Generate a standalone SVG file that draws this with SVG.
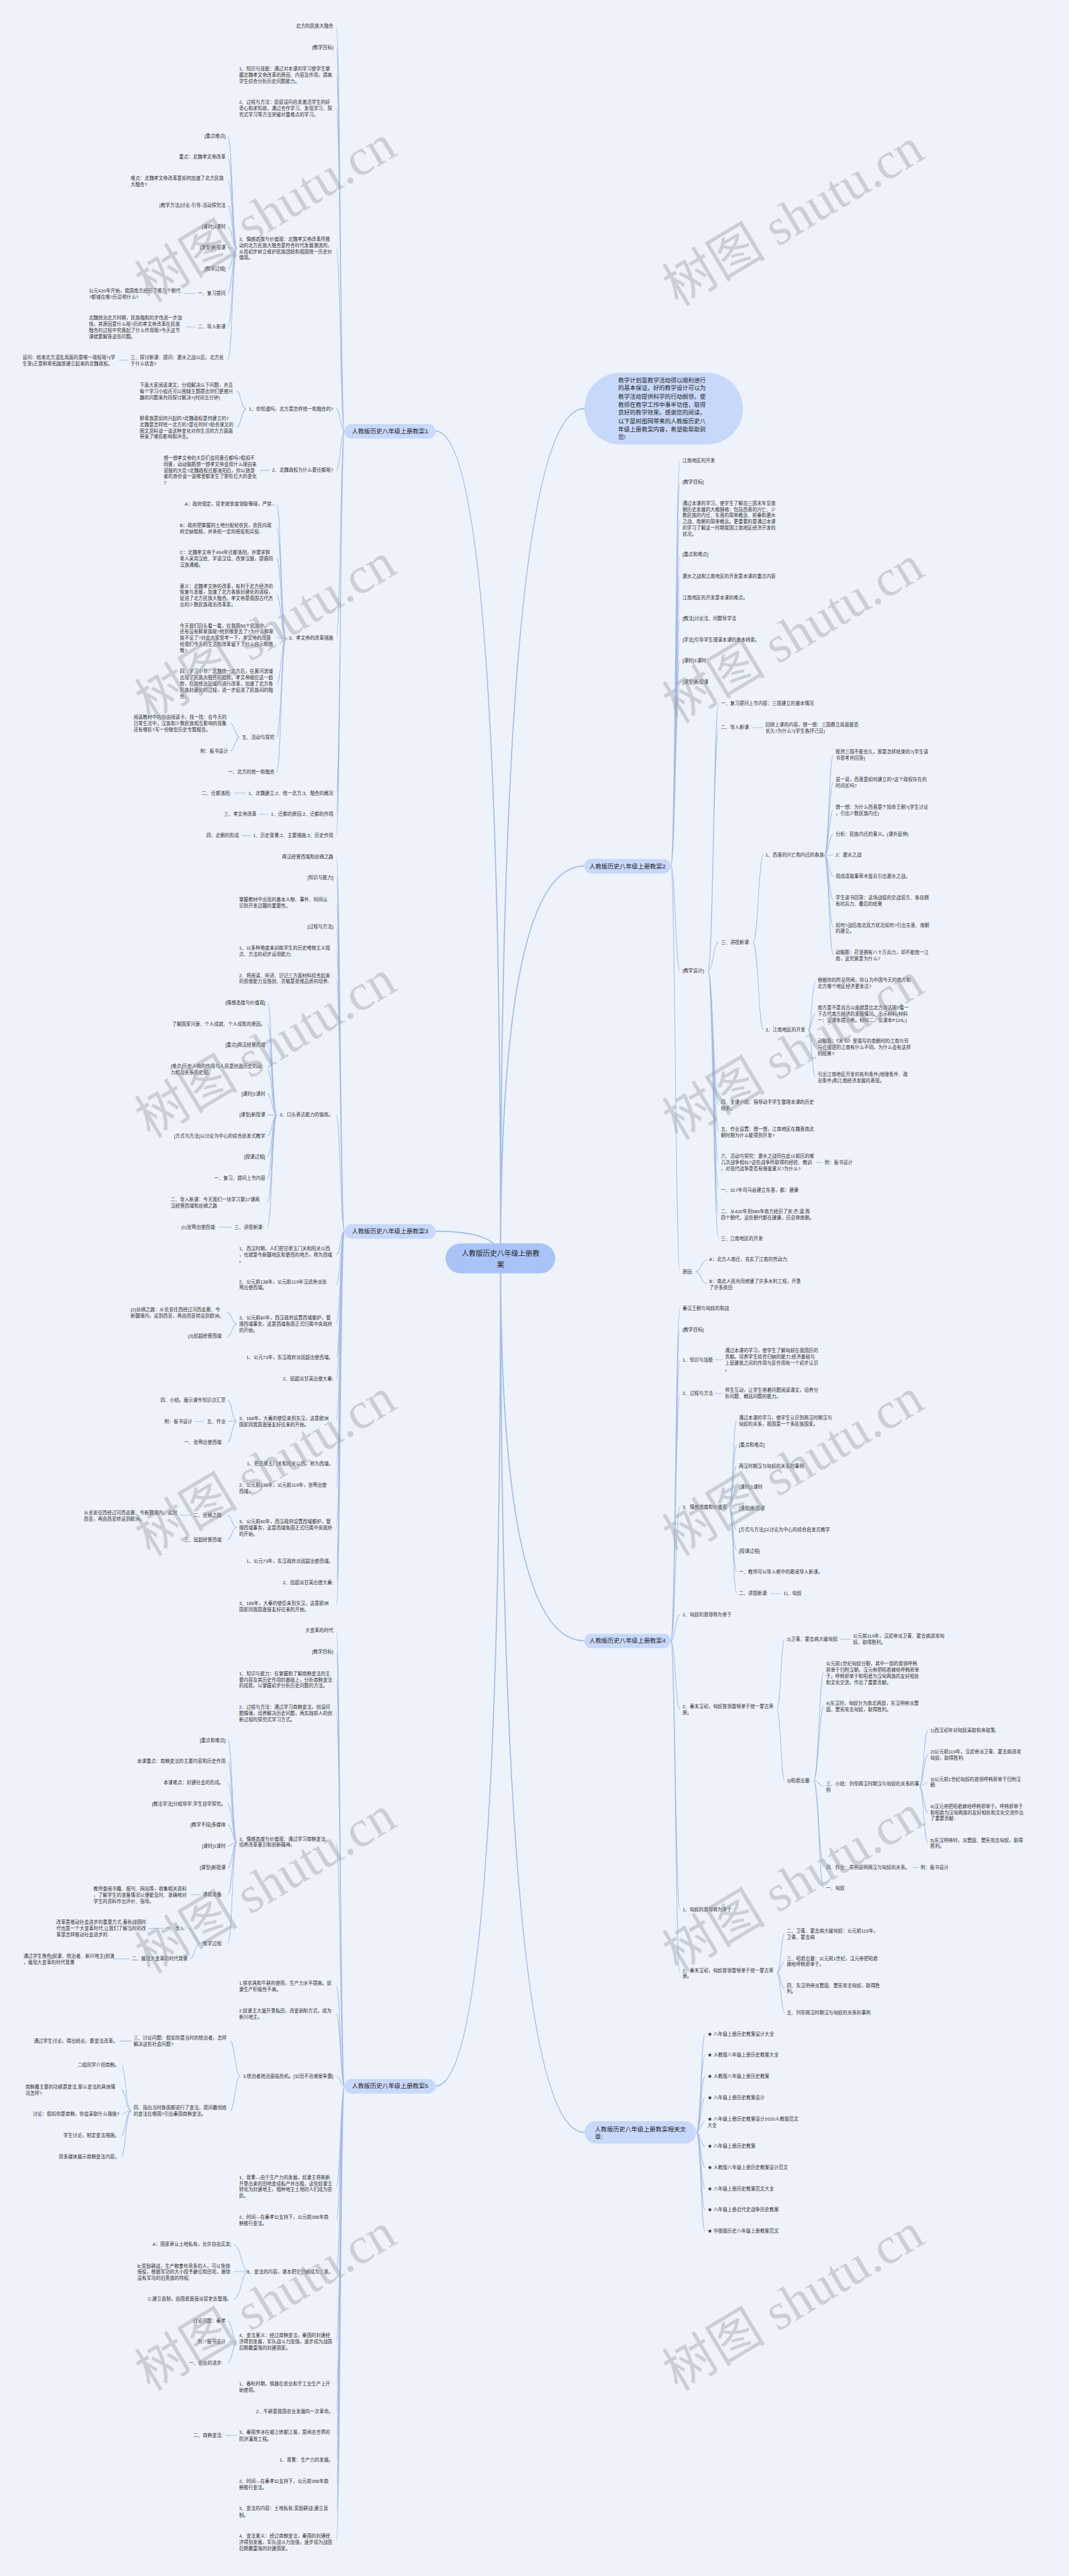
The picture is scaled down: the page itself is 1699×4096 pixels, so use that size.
<svg xmlns="http://www.w3.org/2000/svg" width="1699" height="4096" viewBox="0 0 1699 4096">
<style>
.t{font-family:"Liberation Sans","Noto Sans CJK SC",sans-serif;font-size:11.2px;fill:#2d2d2d;dominant-baseline:central}
.e{text-anchor:end}
.bn{fill:#c8d8fa}
.bt{font-family:"Liberation Sans","Noto Sans CJK SC",sans-serif;font-size:14.6px;fill:#1f1f1f;dominant-baseline:central}
.m{text-anchor:middle}
.c1{fill:none;stroke:#a6bde8;stroke-width:3}
.c2{fill:none;stroke:#a6bde8;stroke-width:1.6}
.wm{font-family:"Liberation Serif","Noto Sans CJK SC",serif;font-size:124px;fill:#9ea3ab;fill-opacity:.45;text-anchor:middle}
</style>
<rect x="0" y="0" width="1699" height="4096" fill="#eef3fb"/>
<g transform="scale(0.663)">
<g id="connectors">
<path class="c1" d="M1200,3018Q1200,1034 1044,1034M1200,3018Q1200,2953 1044,2953M1200,3018Q1200,5003 1044,5003M1200,3018Q1200,980 1401,980M1200,3018Q1200,2077 1401,2077M1200,3018Q1200,3935 1401,3935M1200,3018Q1200,5114 1401,5114"/>
<path class="c2" d="M826,1034C816,1034 816,63 806,63M826,1034C816,1034 816,114 806,114M826,1034C816,1034 816,179 806,179M826,1034C816,1034 816,260 806,260M826,1034C816,1034 816,595 806,595M826,1034C816,1034 816,981 806,981M826,1034C816,1034 816,1128 806,1128M826,1034C816,1034 816,1530 806,1530M826,1034C816,1034 816,1902 806,1902M826,1034C816,1034 816,1953 806,1953M826,1034C816,1034 816,2004 806,2004"/>
<path class="c2" d="M568,595C557,595 557,326 546,326M568,595C557,595 557,377 546,377M568,595C557,595 557,434 546,434M568,595C557,595 557,493 546,493M568,595C557,595 557,544 546,544M568,595C557,595 557,594 546,594M568,595C557,595 557,645 546,645M568,595C557,595 557,704 546,704M568,595C557,595 557,784 546,784M568,595C557,595 557,864 546,864M443,704L469,704M446,784L469,784M285,864L308,864"/>
<path class="c2" d="M590,981C578,981 578,938 567,938M590,981C578,981 578,1025 567,1025M624,1128L646,1128"/>
<path class="c2" d="M686,1530C674,1530 674,1209 663,1209M686,1530C674,1530 674,1266 663,1266M686,1530C674,1530 674,1339 663,1339M686,1530C674,1530 674,1427 663,1427M686,1530C674,1530 674,1530 663,1530M686,1530C674,1530 674,1640 663,1640M686,1530C674,1530 674,1768 663,1768M686,1530C674,1530 674,1852 663,1852M575,1768C563,1768 563,1735 552,1735M575,1768C563,1768 563,1801 552,1801M560,1902L589,1902M621,1953L643,1953M579,2004L600,2004"/>
<path class="c2" d="M826,2953C816,2953 816,2055 806,2055M826,2953C816,2953 816,2105 806,2105M826,2953C816,2953 816,2164 806,2164M826,2953C816,2953 816,2223 806,2223M826,2953C816,2953 816,2280 806,2280M826,2953C816,2953 816,2346 806,2346M826,2953C816,2953 816,2674 806,2674M826,2953C816,2953 816,3009 806,3009M826,2953C816,2953 816,3081 806,3081M826,2953C816,2953 816,3175 806,3175M826,2953C816,2953 816,3256 806,3256M826,2953C816,2953 816,3307 806,3307M826,2953C816,2953 816,3408 806,3408M826,2953C816,2953 816,3510 806,3510M826,2953C816,2953 816,3568 806,3568M826,2953C816,2953 816,3663 806,3663M826,2953C816,2953 816,3744 806,3744M826,2953C816,2953 816,3795 806,3795M826,2953C816,2953 816,3852 806,3852"/>
<path class="c2" d="M664,2674C652,2674 652,2405 641,2405M664,2674C652,2674 652,2456 641,2456M664,2674C652,2674 652,2506 641,2506M664,2674C652,2674 652,2564 641,2564M664,2674C652,2674 652,2623 641,2623M664,2674C652,2674 652,2674 641,2674M664,2674C652,2674 652,2724 641,2724M664,2674C652,2674 652,2775 641,2775M664,2674C652,2674 652,2826 641,2826M664,2674C652,2674 652,2884 641,2884M664,2674C652,2674 652,2943 641,2943M524,2943L556,2943"/>
<path class="c2" d="M568,3175C556,3175 556,3147 544,3147M568,3175C556,3175 556,3205 544,3205M568,3408C556,3408 556,3358 546,3358M568,3408C556,3408 556,3409 546,3409M568,3408C556,3408 556,3460 544,3460M467,3409L490,3409M568,3663C556,3663 556,3634 544,3634M568,3663C556,3663 556,3693 544,3693M431,3634L459,3634"/>
<path class="c2" d="M826,5003C816,5003 816,3911 806,3911M826,5003C816,5003 816,3962 806,3962M826,5003C816,5003 816,4028 806,4028M826,5003C816,5003 816,4108 806,4108M826,5003C816,5003 816,4417 806,4417M826,5003C816,5003 816,4763 806,4763M826,5003C816,5003 816,4829 806,4829M826,5003C816,5003 816,4979 806,4979M826,5003C816,5003 816,5244 806,5244M826,5003C816,5003 816,5324 806,5324M826,5003C816,5003 816,5448 806,5448M826,5003C816,5003 816,5616 806,5616M826,5003C816,5003 816,5724 806,5724M826,5003C816,5003 816,5783 806,5783M826,5003C816,5003 816,5841 806,5841M826,5003C816,5003 816,5899 806,5899M826,5003C816,5003 816,5957 806,5957M826,5003C816,5003 816,6023 806,6023M826,5003C816,5003 816,6097 806,6097"/>
<path class="c2" d="M568,4417C557,4417 557,4174 546,4174M568,4417C557,4417 557,4224 546,4224M568,4417C557,4417 557,4275 546,4275M568,4417C557,4417 557,4326 546,4326M568,4417C557,4417 557,4377 546,4377M568,4417C557,4417 557,4428 546,4428M568,4417C557,4417 557,4479 546,4479M568,4417C557,4417 557,4544 546,4544M568,4417C557,4417 557,4661 546,4661M456,4544L481,4544M481,4661C466,4661 466,4625 451,4625M481,4661C466,4661 466,4698 455,4698M357,4625L392,4625M270,4698L311,4698"/>
<path class="c2" d="M576,4979C563,4979 563,4895 552,4895M576,4979C563,4979 563,5062 552,5062M288,4895L315,4895M315,5062C301,5062 301,4953 291,4953M315,5062C301,5062 301,5011 291,5011M315,5062C301,5062 301,5070 291,5070M315,5062C301,5062 301,5121 291,5121M315,5062C301,5062 301,5172 291,5172"/>
<path class="c2" d="M596,5448C578,5448 578,5383 560,5383M596,5448C578,5448 578,5448 560,5448M596,5448C578,5448 578,5514 560,5514M568,5616C557,5616 557,5566 546,5566M568,5616C557,5616 557,5616 546,5616M568,5616C557,5616 557,5667 546,5667M540,5841L568,5841"/>
<path class="c2" d="M1608,2077C1619,2077 1619,1105 1630,1105M1608,2077C1619,2077 1619,1156 1630,1156M1608,2077C1619,2077 1619,1243 1630,1243M1608,2077C1619,2077 1619,1330 1630,1330M1608,2077C1619,2077 1619,1382 1630,1382M1608,2077C1619,2077 1619,1433 1630,1433M1608,2077C1619,2077 1619,1483 1630,1483M1608,2077C1619,2077 1619,1534 1630,1534M1608,2077C1619,2077 1619,1585 1630,1585M1608,2077C1619,2077 1619,1636 1630,1636M1608,2077C1619,2077 1619,2328 1630,2328M1608,2077C1619,2077 1619,3050 1630,3050"/>
<path class="c2" d="M1697,2328C1710,2328 1710,1687 1723,1687M1697,2328C1710,2328 1710,1745 1723,1745M1697,2328C1710,2328 1710,2260 1723,2260M1697,2328C1710,2328 1710,2649 1723,2649M1697,2328C1710,2328 1710,2715 1723,2715M1697,2328C1710,2328 1710,2788 1723,2788M1697,2328C1710,2328 1710,2854 1723,2854M1697,2328C1710,2328 1710,2912 1723,2912M1697,2328C1710,2328 1710,2970 1723,2970M1805,1745L1830,1745M1956,2788L1972,2788"/>
<path class="c2" d="M1805,2260C1818,2260 1818,2051 1830,2051M1805,2260C1818,2260 1818,2470 1830,2470M1976,2051C1987,2051 1987,1810 1998,1810M1976,2051C1987,2051 1987,1876 1998,1876M1976,2051C1987,2051 1987,1942 1998,1942M1976,2051C1987,2051 1987,2000 1998,2000M1976,2051C1987,2051 1987,2051 1998,2051M1976,2051C1987,2051 1987,2102 1998,2102M1976,2051C1987,2051 1987,2160 1998,2160M1976,2051C1987,2051 1987,2225 1998,2225M1976,2051C1987,2051 1987,2291 1998,2291M1937,2470C1946,2470 1946,2357 1955,2357M1937,2470C1946,2470 1946,2431 1955,2431M1937,2470C1946,2470 1946,2511 1955,2511M1937,2470C1946,2470 1946,2583 1955,2583M1667,3050C1681,3050 1681,3021 1695,3021M1667,3050C1681,3050 1681,3079 1695,3079"/>
<path class="c2" d="M1608,3935C1619,3935 1619,3138 1630,3138M1608,3935C1619,3935 1619,3189 1630,3189M1608,3935C1619,3935 1619,3261 1630,3261M1608,3935C1619,3935 1619,3342 1630,3342M1608,3935C1619,3935 1619,3614 1630,3614M1608,3935C1619,3935 1619,3873 1630,3873M1608,3935C1619,3935 1619,4100 1630,4100M1608,3935C1619,3935 1619,4580 1630,4580M1608,3935C1619,3935 1619,4732 1630,4732M1713,3261L1733,3261M1713,3342L1733,3342"/>
<path class="c2" d="M1748,3614C1757,3614 1757,3407 1766,3407M1748,3614C1757,3614 1757,3466 1766,3466M1748,3614C1757,3614 1757,3516 1766,3516M1748,3614C1757,3614 1757,3567 1766,3567M1748,3614C1757,3614 1757,3618 1766,3618M1748,3614C1757,3614 1757,3669 1766,3669M1748,3614C1757,3614 1757,3720 1766,3720M1748,3614C1757,3614 1757,3770 1766,3770M1748,3614C1757,3614 1757,3822 1766,3822M1847,3822L1872,3822"/>
<path class="c2" d="M1862,4100C1872,4100 1872,3931 1881,3931M1862,4100C1872,4100 1872,4270 1881,4270M2014,3931L2040,3931M1950,4270C1963,4270 1963,4011 1975,4011M1950,4270C1963,4270 1963,4091 1975,4091M1950,4270C1963,4270 1963,4284 1975,4284M1950,4270C1963,4270 1963,4479 1975,4479M1950,4270C1963,4270 1963,4529 1975,4529M2204,4284C2214,4284 2214,4150 2225,4150M2204,4284C2214,4284 2214,4208 2225,4208M2204,4284C2214,4284 2214,4274 2225,4274M2204,4284C2214,4284 2214,4347 2225,4347M2204,4284C2214,4284 2214,4420 2225,4420M2186,4479L2202,4479"/>
<path class="c2" d="M1862,4732C1872,4732 1872,4638 1881,4638M1862,4732C1872,4732 1872,4704 1881,4704M1862,4732C1872,4732 1872,4769 1881,4769M1862,4732C1872,4732 1872,4827 1881,4827"/>
<path class="c2" d="M1669,5114C1680,5114 1680,4879 1690,4879M1669,5114C1680,5114 1680,4929 1690,4929M1669,5114C1680,5114 1680,4980 1690,4980M1669,5114C1680,5114 1680,5031 1690,5031M1669,5114C1680,5114 1680,5088 1690,5088M1669,5114C1680,5114 1680,5147 1690,5147M1669,5114C1680,5114 1680,5198 1690,5198M1669,5114C1680,5114 1680,5249 1690,5249M1669,5114C1680,5114 1680,5300 1690,5300M1669,5114C1680,5114 1680,5351 1690,5351"/>
</g>

<g id="center"><rect x="1068" y="2982" width="263" height="72" rx="36" fill="#a9c3f7"/><text class="bt m" style="font-size:17px"><tspan x="1200" y="3006">人教版历史八年级上册教</tspan><tspan x="1200" y="3033">案</tspan></text></g>
<g id="intro"><rect x="1401" y="894" width="380" height="172" rx="86" class="bn"/><text class="bt" style="font-size:14px"><tspan x="1482" y="912">教学计划是教学活动得以顺利进行</tspan><tspan x="1482" y="931">的基本保证。好的教学设计可以为</tspan><tspan x="1482" y="951">教学活动提供科学的行动纲领，使</tspan><tspan x="1482" y="971">教师在教学工作中事半功倍，取得</tspan><tspan x="1482" y="990">良好的教学效果。感谢您的阅读，</tspan><tspan x="1482" y="1010">以下是树图网带来的人教版历史八</tspan><tspan x="1482" y="1030">年级上册教案内容，希望能帮助到</tspan><tspan x="1482" y="1049">您!</tspan></text></g>
<g id="b1"><rect x="826" y="1017" width="218" height="35" rx="17" class="bn"/><text class="bt m" x="935" y="1034">人教版历史八年级上册教案1</text></g>
<g id="b3"><rect x="826" y="2936" width="218" height="35" rx="17" class="bn"/><text class="bt m" x="935" y="2953">人教版历史八年级上册教案3</text></g>
<g id="b5"><rect x="826" y="4986" width="218" height="35" rx="17" class="bn"/><text class="bt m" x="935" y="5003">人教版历史八年级上册教案5</text></g>
<g id="b2"><rect x="1401" y="2060" width="207" height="35" rx="17" class="bn"/><text class="bt m" x="1504" y="2077">人教版历史八年级上册教案2</text></g>
<g id="b4"><rect x="1401" y="3918" width="207" height="35" rx="17" class="bn"/><text class="bt m" x="1504" y="3935">人教版历史八年级上册教案4</text></g>
<g id="b6"><rect x="1401" y="5087" width="268" height="54" rx="27" class="bn"/><text class="bt"><tspan x="1426" y="5105">人教版历史八年级上册教案相关文</tspan><tspan x="1426" y="5124">章:</tspan></text></g>

<g id="b1_01"><text class="t e" x="799" y="63">北方的民族大融合</text></g>
<g id="b1_02"><text class="t e" x="799" y="114">[教学目标]</text></g>
<g id="b1_03"><text class="t"><tspan x="573" y="164">1、知识与技能：通过对本课的学习使学生掌</tspan><tspan x="573" y="179">握北魏孝文帝改革的原因、内容及作用，提高</tspan><tspan x="573" y="194">学生综合分析历史问题能力。</tspan></text></g>
<g id="b1_04"><text class="t"><tspan x="573" y="245">2、过程与方法：层层设问启发激活学生的好</tspan><tspan x="573" y="260">奇心和求知欲，通过合作学习、发现学习、探</tspan><tspan x="573" y="275">究式学习等方法突破对重难点的学习。</tspan></text></g>
<g id="b1_05"><text class="t"><tspan x="573" y="573">3、情感态度与价值观：北魏孝文帝改革所推</tspan><tspan x="573" y="588">动的北方民族大融合是符合时代发展潮流的，</tspan><tspan x="573" y="603">从而初步树立维护民族团结和祖国统一历史价</tspan><tspan x="573" y="617">值观。</tspan></text></g>
<g id="b1_05a"><text class="t e" x="541" y="326">[重点难点]</text></g>
<g id="b1_05b"><text class="t e" x="541" y="377">重点：北魏孝文帝改革</text></g>
<g id="b1_05c"><text class="t"><tspan x="313" y="427">难点：北魏孝文帝改革是如何加速了北方民族</tspan><tspan x="313" y="442">大融合?</tspan></text></g>
<g id="b1_05d"><text class="t e" x="541" y="493">[教学方法]讨论-引导-活动探究法</text></g>
<g id="b1_05e"><text class="t e" x="541" y="544">[课时]1课时</text></g>
<g id="b1_05f"><text class="t e" x="541" y="594">[课型]新授课</text></g>
<g id="b1_05g"><text class="t e" x="541" y="645">[教学过程]</text></g>
<g id="b1_05h"><text class="t e" x="541" y="704">一、复习提问</text></g>
<g id="b1_05i"><text class="t e" x="541" y="784">二、导入新课</text></g>
<g id="b1_05j"><text class="t"><tspan x="313" y="857">三、探讨新课：提问：淝水之战以后，北方处</tspan><tspan x="313" y="872">于什么状态?</tspan></text></g>
<g id="b1_05h1"><text class="t"><tspan x="213" y="697">公元420年开始，我国南方经历了哪几个朝代</tspan><tspan x="213" y="712">?都城在哪?历总称什么?</tspan></text></g>
<g id="b1_05i1"><text class="t"><tspan x="213" y="762">北魏统治北方时期，民族融和的步伐进一步加</tspan><tspan x="213" y="777">快，其原因是什么呢?历的孝文帝改革在民族</tspan><tspan x="213" y="792">融合的过程中究竟起了什么作用呢?今天这节</tspan><tspan x="213" y="807">课就要解答这些问题。</tspan></text></g>
<g id="b1_05j1"><text class="t"><tspan x="54" y="857">设问：结束北方混乱局面的是哪一政权呢?(学</tspan><tspan x="54" y="872">生答)正是鲜卑拓跋部建立起来的北魏政权。</tspan></text></g>
<g id="b1_06"><text class="t e" x="799" y="981">1、你知道吗，北方是怎样统一和融合的?</text></g>
<g id="b1_06a"><text class="t"><tspan x="335" y="923">下面大家阅读课文，分组解决以下问题，并且</tspan><tspan x="335" y="938">每个学习小组还可以围绕主题提出你们更感兴</tspan><tspan x="335" y="953">趣的问题来共同探讨解决?(时间五分钟)</tspan></text></g>
<g id="b1_06b"><text class="t"><tspan x="335" y="1003">鲜卑族是如何兴起的?北魏政权是何建立的?</tspan><tspan x="335" y="1018">北魏是怎样统一北方的?是在何时?结合课文的</tspan><tspan x="335" y="1033">图文资料谈一谈这种变化对你生活的方方面面</tspan><tspan x="335" y="1047">带来了哪些影响和冲击。</tspan></text></g>
<g id="b1_07"><text class="t e" x="799" y="1128">2、北魏政权为什么要迁都呢?</text></g>
<g id="b1_07a"><text class="t"><tspan x="392" y="1098">想一想孝文帝的大臣们会同意迁都吗?假如不</tspan><tspan x="392" y="1113">同意，动动脑筋想一想孝文帝会用什么理由来</tspan><tspan x="392" y="1128">说服的大臣?北魏政权迁都洛阳后，你以旅游</tspan><tspan x="392" y="1142">者的身份谈一谈哪里都发生了那些巨大的变化</tspan><tspan x="392" y="1157">?</tspan></text></g>
<g id="b1_08"><text class="t e" x="799" y="1530">3、孝文帝的改革措施</text></g>
<g id="b1_08a"><text class="t e" x="658" y="1209">A：政府规定，官吏按季度领取俸禄，严禁-;</text></g>
<g id="b1_08b"><text class="t"><tspan x="431" y="1259">B：政府把掌握的土地分配给农民，农民向政</tspan><tspan x="431" y="1274">府交纳租税，并承担一定的徭役和兵役;</tspan></text></g>
<g id="b1_08c"><text class="t"><tspan x="431" y="1325">C：北魏孝文帝于494年迁都洛阳，并要求鲜</tspan><tspan x="431" y="1339">卑人采用汉姓、学说汉话、改穿汉服，提倡同</tspan><tspan x="431" y="1354">汉族通婚。</tspan></text></g>
<g id="b1_08d"><text class="t"><tspan x="431" y="1405">意义：北魏孝文帝的改革，有利于北方经济的</tspan><tspan x="431" y="1420">恢复与发展，加速了北方各族封建化的进程，</tspan><tspan x="431" y="1435">促进了北方民族大融合。孝文帝是我国古代杰</tspan><tspan x="431" y="1449">出的少数民族政治改革家。</tspan></text></g>
<g id="b1_08e"><text class="t"><tspan x="431" y="1500">今天我们回头看一看，在我国56个民族中，</tspan><tspan x="431" y="1515">还有没有鲜卑族呢?他到哪里去了?为什么鲜卑</tspan><tspan x="431" y="1530">族不见了?对此大家思考一下，孝文帝的改革</tspan><tspan x="431" y="1545">给我们今天的生活和改革留下了什么启示和感</tspan><tspan x="431" y="1559">慨?</tspan></text></g>
<g id="b1_08f"><text class="t"><tspan x="431" y="1610">四、学习小节：北魏统一北方后，在黄河流域</tspan><tspan x="431" y="1625">出现了民族大融合的趋势。孝文帝顺应这一趋</tspan><tspan x="431" y="1640">势，在其统治区域内进行改革，加速了北方各</tspan><tspan x="431" y="1654">民族封建化的过程，进一步促进了民族间的融</tspan><tspan x="431" y="1669">合。</tspan></text></g>
<g id="b1_08g"><text class="t e" x="658" y="1768">五、活动与探究</text></g>
<g id="b1_08g1"><text class="t"><tspan x="320" y="1720">阅读教材中的自由阅读卡，找一找：在今天的</tspan><tspan x="320" y="1735">日常生活中，汉族和少数民族相互影响的现象</tspan><tspan x="320" y="1750">还有哪些?写一份微型历史专题报告。</tspan></text></g>
<g id="b1_08g2"><text class="t e" x="547" y="1801">附：板书设计</text></g>
<g id="b1_08h"><text class="t e" x="658" y="1852">一、北方的统一和融合</text></g>
<g id="b1_09"><text class="t e" x="799" y="1902">1、北魏建立;2、统一北方;3、融合的概况</text></g>
<g id="b1_09a"><text class="t e" x="554" y="1902">二、迁都洛阳:</text></g>
<g id="b1_10"><text class="t e" x="799" y="1953">1、迁都的原因;2、迁都的作用</text></g>
<g id="b1_10a"><text class="t e" x="615" y="1953">三、孝文帝改革</text></g>
<g id="b1_11"><text class="t e" x="799" y="2004">1、历史背景;2、主要措施;3、历史作用</text></g>
<g id="b1_11a"><text class="t e" x="573" y="2004">四、北朝的形成</text></g>

<g id="b3_01"><text class="t e" x="799" y="2055">两汉经营西域和丝绸之路</text></g>
<g id="b3_02"><text class="t e" x="799" y="2105">[知识与能力]</text></g>
<g id="b3_03"><text class="t"><tspan x="573" y="2157">掌握教材中出现的基本人物、事件、时间认</tspan><tspan x="573" y="2172">识到开发边疆的重要性。</tspan></text></g>
<g id="b3_04"><text class="t e" x="799" y="2223">[过程与方法]</text></g>
<g id="b3_05"><text class="t"><tspan x="573" y="2273">1、以多种角度来训练学生的历史唯物主义观</tspan><tspan x="573" y="2288">点、方法的初步运用能力;</tspan></text></g>
<g id="b3_06"><text class="t"><tspan x="573" y="2339">2、将阅读、听讲、识记三方面材料综合起来</tspan><tspan x="573" y="2353">的思维能力及独创、灵敏是思维品质的培养;</tspan></text></g>
<g id="b3_07"><text class="t e" x="799" y="2674">3、口头表达能力的锻炼。</text></g>
<g id="b3_07a"><text class="t e" x="636" y="2405">[情感态度与价值观]</text></g>
<g id="b3_07b"><text class="t e" x="636" y="2456">了解国家兴衰、个人成就、个人成败的原因。</text></g>
<g id="b3_07c"><text class="t e" x="636" y="2506">[重点]两汉经营西域</text></g>
<g id="b3_07d"><text class="t"><tspan x="409" y="2557">[难点]历史人物的作用与人民是创造历史的动</tspan><tspan x="409" y="2572">力相互关系的史观。</tspan></text></g>
<g id="b3_07e"><text class="t e" x="636" y="2623">[课时]1课时</text></g>
<g id="b3_07f"><text class="t e" x="636" y="2674">[课型]新授课</text></g>
<g id="b3_07g"><text class="t e" x="636" y="2724">[方式与方法]以讨论为中心的综合启发式教学</text></g>
<g id="b3_07h"><text class="t e" x="636" y="2775">[授课过程]</text></g>
<g id="b3_07i"><text class="t e" x="636" y="2826">一、复习、提问上节内容</text></g>
<g id="b3_07j"><text class="t"><tspan x="409" y="2877">二、导入新课：今天我们一块学习第17课两</tspan><tspan x="409" y="2892">汉经营西域和丝绸之路</tspan></text></g>
<g id="b3_07k"><text class="t e" x="632" y="2943">三、讲授新课:</text></g>
<g id="b3_07k1"><text class="t e" x="518" y="2943">(1)张骞出使西域:</text></g>
<g id="b3_08"><text class="t"><tspan x="573" y="2994">1、西汉时期，人们把甘肃玉门关和阳关以西</tspan><tspan x="573" y="3009">，也就是今新疆地区和更西的地方，称为西域</tspan><tspan x="573" y="3023">。</tspan></text></g>
<g id="b3_09"><text class="t"><tspan x="573" y="3074">2、公元前138年，公元前119年汉武帝派张</tspan><tspan x="573" y="3088">骞出使西域。</tspan></text></g>
<g id="b3_10"><text class="t"><tspan x="573" y="3160">3、公元前60年，西汉政府设置西域都护，管</tspan><tspan x="573" y="3175">理西域事务，这是西域各国正式归属中央政府</tspan><tspan x="573" y="3190">的开始。</tspan></text></g>
<g id="b3_10a"><text class="t"><tspan x="313" y="3140">(2)丝绸之路：从长安往西经过河西走廊、今</tspan><tspan x="313" y="3155">新疆境内，运到西亚，再由西亚转运到欧洲。</tspan></text></g>
<g id="b3_10b"><text class="t e" x="534" y="3205">(3)班超经营西域:</text></g>
<g id="b3_11"><text class="t e" x="799" y="3256">1、公元73年，东汉政府派班超出使西域。</text></g>
<g id="b3_12"><text class="t e" x="799" y="3307">2、班超派甘英出使大秦;</text></g>
<g id="b3_13"><text class="t"><tspan x="573" y="3401">3、166年，大秦的使臣来到东汉，这是欧洲</tspan><tspan x="573" y="3416">国家同我国直接友好往来的开始。</tspan></text></g>
<g id="b3_13a"><text class="t e" x="541" y="3358">四、小结。展示课件知识点汇萃</text></g>
<g id="b3_13b"><text class="t e" x="541" y="3409">五、作业</text></g>
<g id="b3_13b1"><text class="t e" x="461" y="3409">附：板书设计</text></g>
<g id="b3_13c"><text class="t e" x="534" y="3460">一、张骞出使西域:</text></g>
<g id="b3_14"><text class="t e" x="799" y="3510">1、把甘肃玉门关和阳关以西，称为西域。</text></g>
<g id="b3_15"><text class="t"><tspan x="573" y="3561">2、公元前138年，公元前119年，张骞出使</tspan><tspan x="573" y="3576">西域。</tspan></text></g>
<g id="b3_16"><text class="t"><tspan x="573" y="3648">3、公元前60年，西汉政府设置西域都护，管</tspan><tspan x="573" y="3663">理西域事务，这是西域各国正式归属中央政府</tspan><tspan x="573" y="3678">的开始。</tspan></text></g>
<g id="b3_16a"><text class="t e" x="534" y="3634">二、丝绸之路:</text></g>
<g id="b3_16a1"><text class="t"><tspan x="201" y="3627">从长安往西经过河西走廊、今新疆境内，运到</tspan><tspan x="201" y="3642">西亚，再由西亚转运到欧洲。</tspan></text></g>
<g id="b3_16b"><text class="t e" x="534" y="3693">三、班超经营西域:</text></g>
<g id="b3_17"><text class="t e" x="799" y="3744">1、公元73年，东汉政府派班超出使西域。</text></g>
<g id="b3_18"><text class="t e" x="799" y="3795">2、班超派甘英出使大秦;</text></g>
<g id="b3_19"><text class="t"><tspan x="573" y="3845">3、166年，大秦的使臣来到东汉，这是欧洲</tspan><tspan x="573" y="3860">国家同我国直接友好往来的开始。</tspan></text></g>

<g id="b5_01"><text class="t e" x="799" y="3911">大变革的时代</text></g>
<g id="b5_02"><text class="t e" x="799" y="3962">[教学目标]</text></g>
<g id="b5_03"><text class="t"><tspan x="573" y="4013">1、知识与能力：在掌握和了解商鞅变法的主</tspan><tspan x="573" y="4028">要内容及其历史作用的基础上，分析商鞅变法</tspan><tspan x="573" y="4042">的成败，以掌握初步分析历史问题的方法。</tspan></text></g>
<g id="b5_04"><text class="t"><tspan x="573" y="4093">2、过程与方法：通过学习商鞅变法，创设问</tspan><tspan x="573" y="4108">题情境，培养解决历史问题，再实践前人的创</tspan><tspan x="573" y="4123">新过程的探究式学习方式。</tspan></text></g>
<g id="b5_05"><text class="t"><tspan x="573" y="4410">3、情感态度与价值观：通过学习商鞅变法，</tspan><tspan x="573" y="4424">培养改革意识和创新精神。</tspan></text></g>
<g id="b5_05a"><text class="t e" x="541" y="4174">[重点和难点]</text></g>
<g id="b5_05b"><text class="t e" x="541" y="4224">本课重点：商鞅变法的主要内容和历史作用</text></g>
<g id="b5_05c"><text class="t e" x="537" y="4275">本课难点：封建社会的形成。</text></g>
<g id="b5_05d"><text class="t e" x="541" y="4326">[教法学法]分组导学,学生自学探究。</text></g>
<g id="b5_05e"><text class="t e" x="541" y="4377">[教学手段]多媒体</text></g>
<g id="b5_05f"><text class="t e" x="541" y="4428">[课时]1课时</text></g>
<g id="b5_05g"><text class="t e" x="541" y="4479">[课型]新授课</text></g>
<g id="b5_05h"><text class="t e" x="534" y="4544">课前准备:</text></g>
<g id="b5_05h1"><text class="t"><tspan x="224" y="4530">教师查阅书籍、报刊、网站等，收集相关资料</tspan><tspan x="224" y="4544">，了解学生的准备情况以便能及时、准确地对</tspan><tspan x="224" y="4559">学生的资料作出评价、指导。</tspan></text></g>
<g id="b5_05i"><text class="t e" x="534" y="4661">教学过程:</text></g>
<g id="b5_05i1"><text class="t e" x="445" y="4625">一、导入:</text></g>
<g id="b5_05i1a"><text class="t"><tspan x="135" y="4610">改革是推动社会进步的重要方式,春秋战国时</tspan><tspan x="135" y="4625">代也是一个大变革时代,让我们了解当时的改</tspan><tspan x="135" y="4640">革是怎样推动社会进步的.</tspan></text></g>
<g id="b5_05i2"><text class="t e" x="450" y="4698">二、展现大变革的时代背景</text></g>
<g id="b5_05i2a"><text class="t"><tspan x="56" y="4691">通过学生角色[奴隶、统治者、新兴地主]扮演</tspan><tspan x="56" y="4706">，展现大变革的时代背景</tspan></text></g>
<g id="b5_06"><text class="t"><tspan x="573" y="4756">1.铁农具和牛耕的使用，生产力水平提高。奴</tspan><tspan x="573" y="4771">隶生产积极性不高。</tspan></text></g>
<g id="b5_07"><text class="t"><tspan x="573" y="4822">2.奴隶主大量开垦私田，改变剥削方式，成为</tspan><tspan x="573" y="4837">新兴地主。</tspan></text></g>
<g id="b5_08"><text class="t e" x="799" y="4979">3.统治者统治面临危机。[公田不治诸侯争霸]</text></g>
<g id="b5_08a"><text class="t"><tspan x="320" y="4887">三、讨论问题：假如你是当时的统治者，怎样</tspan><tspan x="320" y="4902">解决这些社会问题?</tspan></text></g>
<g id="b5_08a1"><text class="t e" x="282" y="4895">通过学生讨论，得出结论，要变法改革。</text></g>
<g id="b5_08b"><text class="t"><tspan x="320" y="5055">四、指出当时各国都进行了变法，提问最彻底</tspan><tspan x="320" y="5070">的变法在哪国?引出秦国商鞅变法。</tspan></text></g>
<g id="b5_08b1"><text class="t e" x="286" y="4953">二组同学介绍商鞅。</text></g>
<g id="b5_08b2"><text class="t"><tspan x="61" y="5004">商鞅最主要的功绩是变法,那么变法的具体情</tspan><tspan x="61" y="5019">况怎样?</tspan></text></g>
<g id="b5_08b3"><text class="t e" x="286" y="5070">讨论：假如你是商鞅，你会采取什么措施?</text></g>
<g id="b5_08b4"><text class="t e" x="286" y="5121">学生讨论，制定变法措施。</text></g>
<g id="b5_08b5"><text class="t e" x="286" y="5172">用多媒体展示商鞅变法内容。</text></g>
<g id="b5_09"><text class="t"><tspan x="573" y="5222">1、背景---由于生产力的发展，奴隶主将新新</tspan><tspan x="573" y="5237">开垦出来的田地变成私产并出租，这些奴隶主</tspan><tspan x="573" y="5251">转化为封建地主，租种地主土地的人们成为农</tspan><tspan x="573" y="5266">民。</tspan></text></g>
<g id="b5_10"><text class="t"><tspan x="573" y="5317">2、时间---在秦孝公支持下，公元前356年商</tspan><tspan x="573" y="5332">鞅推行变法。</tspan></text></g>
<g id="b5_11"><text class="t e" x="799" y="5448">3、变法的内容，课本把它归纳成为三条。</text></g>
<g id="b5_11a"><text class="t e" x="555" y="5383">A：国家承认土地私有，允许自由买卖;</text></g>
<g id="b5_11b"><text class="t"><tspan x="329" y="5434">B;奖励耕战，生产粮食布帛多的人，可以免除</tspan><tspan x="329" y="5448">徭役，根据军功的大小授予爵位和田宅，废除</tspan><tspan x="329" y="5463">没有军功的旧贵族的特权;</tspan></text></g>
<g id="b5_11c"><text class="t e" x="555" y="5514">C;建立县制，由国君直接派官吏去管理。</text></g>
<g id="b5_12"><text class="t"><tspan x="573" y="5601">4、变法意义：经过商鞅变法，秦国的封建经</tspan><tspan x="573" y="5616">济得到发展，军队战斗力加强，逐步成为战国</tspan><tspan x="573" y="5631">后期最富强的封建国家。</tspan></text></g>
<g id="b5_12a"><text class="t e" x="541" y="5566">讨论问题：秦孝</text></g>
<g id="b5_12b"><text class="t e" x="541" y="5616">附：板书设计</text></g>
<g id="b5_12c"><text class="t e" x="534" y="5667">一、农业的进步:</text></g>
<g id="b5_13"><text class="t"><tspan x="573" y="5717">1、春秋时期，铁器在农业和手工业生产上开</tspan><tspan x="573" y="5732">始使用。</tspan></text></g>
<g id="b5_14"><text class="t e" x="799" y="5783">2、牛耕是我国农业发展的一次革命。</text></g>
<g id="b5_15"><text class="t"><tspan x="573" y="5833">3、秦国李冰在岷江修都江堰，是闻名世界的</tspan><tspan x="573" y="5849">防洪灌溉工程。</tspan></text></g>
<g id="b5_15a"><text class="t e" x="534" y="5841">二、商鞅变法:</text></g>
<g id="b5_16"><text class="t e" x="799" y="5899">1、背景：生产力的发展。</text></g>
<g id="b5_17"><text class="t"><tspan x="573" y="5950">2、时间---在秦孝公支持下，公元前356年商</tspan><tspan x="573" y="5965">鞅推行变法。</tspan></text></g>
<g id="b5_18"><text class="t"><tspan x="573" y="6015">3、变法的内容：土地私有;奖励耕战;建立县</tspan><tspan x="573" y="6031">制。</tspan></text></g>
<g id="b5_19"><text class="t"><tspan x="573" y="6082">4、变法意义：经过商鞅变法，秦国的封建经</tspan><tspan x="573" y="6097">济得到发展，军队战斗力加强，逐步成为战国</tspan><tspan x="573" y="6111">后期最富强的封建国家。</tspan></text></g>

<g id="b2_01"><text class="t" x="1636" y="1105">江南地区的开发</text></g>
<g id="b2_02"><text class="t" x="1636" y="1156">[教学目标]</text></g>
<g id="b2_03"><text class="t"><tspan x="1636" y="1206">通过本课的学习，使学生了解自三国末年至南</tspan><tspan x="1636" y="1221">朝历史发展的大概脉络：包括西晋的兴亡、少</tspan><tspan x="1636" y="1236">数民族的内迁、东晋的简单概念、前秦和淝水</tspan><tspan x="1636" y="1250">之战、南朝的简单概念。更重要的是通过本课</tspan><tspan x="1636" y="1265">的学习了解这一时期我国江南地区经济开发的</tspan><tspan x="1636" y="1280">状况。</tspan></text></g>
<g id="b2_04"><text class="t" x="1636" y="1330">[重点和难点]</text></g>
<g id="b2_05"><text class="t" x="1636" y="1382">淝水之战和江南地区的开发是本课的重点内容</text></g>
<g id="b2_06"><text class="t" x="1636" y="1433">江南地区的开发是本课的难点。</text></g>
<g id="b2_07"><text class="t" x="1636" y="1483">[教法]讨论法、问题导学法</text></g>
<g id="b2_08"><text class="t" x="1636" y="1534">[学法]引导学生理清本课的基本线索。</text></g>
<g id="b2_09"><text class="t" x="1636" y="1585">[课时]1课时</text></g>
<g id="b2_10"><text class="t" x="1636" y="1636">[课型]新授课</text></g>
<g id="b2_11"><text class="t" x="1636" y="2328">[教学设计]:</text></g>
<g id="b2_11a"><text class="t" x="1728" y="1687">一、复习提问上节内容：三国建立的基本情况</text></g>
<g id="b2_11b"><text class="t" x="1728" y="1745">二、导入新课:</text></g>
<g id="b2_11b1"><text class="t"><tspan x="1835" y="1737">回顾上课的内容，想一想：三国鼎立局面能否</tspan><tspan x="1835" y="1753">长久?为什么?(学生各抒己见)</tspan></text></g>
<g id="b2_11c"><text class="t" x="1728" y="2260">三、讲授新课:</text></g>
<g id="b2_11c1"><text class="t" x="1835" y="2051">1、西晋的兴亡和内迁的各族</text></g>
<g id="b2_11c1a"><text class="t"><tspan x="2003" y="1803">既然三国不能长久，那是怎样结束的?(学生读</tspan><tspan x="2003" y="1818">书思考并回答)</tspan></text></g>
<g id="b2_11c1b"><text class="t"><tspan x="2003" y="1869">说一说，西晋是如何建立的?这个政权存在的</tspan><tspan x="2003" y="1884">时间长吗?</tspan></text></g>
<g id="b2_11c1c"><text class="t"><tspan x="2003" y="1935">想一想：为什么西晋是个短命王朝?(学生讨论</tspan><tspan x="2003" y="1950">，引出少数民族内迁)</tspan></text></g>
<g id="b2_11c1d"><text class="t" x="2003" y="2000">分析：民族内迁的意义。(课外延伸)</text></g>
<g id="b2_11c1e"><text class="t" x="2003" y="2051">2：淝水之战</text></g>
<g id="b2_11c1f"><text class="t" x="2003" y="2102">用成语故事草木皆兵引出淝水之战。</text></g>
<g id="b2_11c1g"><text class="t"><tspan x="2003" y="2153">学生读书回答：这场战役的交战双方、各自拥</tspan><tspan x="2003" y="2168">有的兵力、最后的结果</tspan></text></g>
<g id="b2_11c1h"><text class="t"><tspan x="2003" y="2218">如何?战后南北双方状况如何?引出东晋、南朝</tspan><tspan x="2003" y="2233">的建立。</tspan></text></g>
<g id="b2_11c1i"><text class="t"><tspan x="2003" y="2284">动脑筋：苻坚拥有八十万兵力，却不能统一江</tspan><tspan x="2003" y="2299">南，这究竟是为什么?</tspan></text></g>
<g id="b2_11c2"><text class="t" x="1835" y="2470">3、江南地区的开发</text></g>
<g id="b2_11c2a"><text class="t"><tspan x="1960" y="2350">根据你的所见所闻，你认为中国今天的南方和</tspan><tspan x="1960" y="2365">北方哪个地区经济更发达?</tspan></text></g>
<g id="b2_11c2b"><text class="t"><tspan x="1960" y="2416">南方是不是自古以来就是比北方发达呢?看一</tspan><tspan x="1960" y="2431">下古代南方经济的发展情况。出示材料(材料</tspan><tspan x="1960" y="2446">一：见课本提示框。材料二，见课本P129。)</tspan></text></g>
<g id="b2_11c2c"><text class="t"><tspan x="1960" y="2496">动脑筋：《宋书》里描写的南朝时的江南与司</tspan><tspan x="1960" y="2511">马迁描述的江南有什么不同，为什么会有这样</tspan><tspan x="1960" y="2526">的结果?</tspan></text></g>
<g id="b2_11c2d"><text class="t"><tspan x="1960" y="2576">引出江南地区开发的有利条件(地理条件、政</tspan><tspan x="1960" y="2591">治条件)和江南经济发展的表现。</tspan></text></g>
<g id="b2_11d"><text class="t"><tspan x="1728" y="2642">四、全课小结：指导动手学生整理本课的历史</tspan><tspan x="1728" y="2657">线索。</tspan></text></g>
<g id="b2_11e"><text class="t"><tspan x="1728" y="2708">五、作业设置：想一想，江南地区在魏晋南北</tspan><tspan x="1728" y="2723">朝时期为什么能得到开发?</tspan></text></g>
<g id="b2_11f"><text class="t"><tspan x="1728" y="2773">六、活动与探究：淝水之战同在此以前历的哪</tspan><tspan x="1728" y="2788">几次战争相似?这些战争所取得的经验、教训</tspan><tspan x="1728" y="2803">，对现代战争是否有借鉴意义?为什么?</tspan></text></g>
<g id="b2_11f1"><text class="t" x="1977" y="2788">附：板书设计</text></g>
<g id="b2_11g"><text class="t" x="1728" y="2854">一、317年司马睿建立东晋，都：建康</text></g>
<g id="b2_11h"><text class="t"><tspan x="1728" y="2905">二、从420年到589年南方经历了宋;齐;梁;陈</tspan><tspan x="1728" y="2920">四个朝代，这些朝代都在建康，历总称南朝。</tspan></text></g>
<g id="b2_11i"><text class="t" x="1728" y="2970">三、江南地区的开发:</text></g>
<g id="b2_12"><text class="t" x="1636" y="3050">原因:</text></g>
<g id="b2_12a"><text class="t" x="1700" y="3021">A：北方人南迁，充实了江南的劳动力;</text></g>
<g id="b2_12b"><text class="t"><tspan x="1700" y="3072">B：南北人民共同修建了许多水利工程，开垦</tspan><tspan x="1700" y="3087">了许多良田</tspan></text></g>

<g id="b4_01"><text class="t" x="1636" y="3138">秦汉王朝与匈奴的和战</text></g>
<g id="b4_02"><text class="t" x="1636" y="3189">[教学目标]</text></g>
<g id="b4_03"><text class="t" x="1636" y="3261">1、知识与技能</text></g>
<g id="b4_03a"><text class="t"><tspan x="1738" y="3239">通过本课的学习，使学生了解匈奴在我国历的</tspan><tspan x="1738" y="3254">贡献。培养学生综合归纳的能力;经济基础与</tspan><tspan x="1738" y="3269">上层建筑之间的作用与反作用有一个初步认识</tspan><tspan x="1738" y="3284">。</tspan></text></g>
<g id="b4_04"><text class="t" x="1636" y="3342">2、过程与方法</text></g>
<g id="b4_04a"><text class="t"><tspan x="1738" y="3334">师生互动，让学生带着问题阅读课文，培养分</tspan><tspan x="1738" y="3349">析问题、概括问题的能力。</tspan></text></g>
<g id="b4_05"><text class="t" x="1636" y="3614">3、情感态度和价值观</text></g>
<g id="b4_05a"><text class="t"><tspan x="1771" y="3400">通过本课的学习，使学生认识到两汉时期汉与</tspan><tspan x="1771" y="3415">匈奴的关系，我国是一个多民族国家。</tspan></text></g>
<g id="b4_05b"><text class="t" x="1771" y="3466">[重点和难点]</text></g>
<g id="b4_05c"><text class="t" x="1771" y="3516">两汉时期汉与匈奴的关系的事例</text></g>
<g id="b4_05d"><text class="t" x="1771" y="3567">[课时]1课时</text></g>
<g id="b4_05e"><text class="t" x="1771" y="3618">[课型]新授课</text></g>
<g id="b4_05f"><text class="t" x="1771" y="3669">[方式与方法]以讨论为中心的综合启发式教学</text></g>
<g id="b4_05g"><text class="t" x="1771" y="3720">[授课过程]</text></g>
<g id="b4_05h"><text class="t" x="1771" y="3770">一、教师可以导入框中的歌谣导入新课。</text></g>
<g id="b4_05i"><text class="t" x="1771" y="3822">二、讲授新课:</text></g>
<g id="b4_05i1"><text class="t" x="1878" y="3822">1)、匈奴</text></g>
<g id="b4_06"><text class="t" x="1636" y="3873">1、匈奴的首领称为单于</text></g>
<g id="b4_07"><text class="t"><tspan x="1636" y="4092">2、秦末汉初，匈奴首领冒顿单于统一蒙古草</tspan><tspan x="1636" y="4107">原。</tspan></text></g>
<g id="b4_07a"><text class="t" x="1886" y="3931">2)卫青、霍去病大破匈奴:</text></g>
<g id="b4_07a1"><text class="t"><tspan x="2045" y="3923">公元前119年，汉武帝派卫青、霍去病进攻匈</tspan><tspan x="2045" y="3938">奴，取得胜利。</tspan></text></g>
<g id="b4_07b"><text class="t" x="1886" y="4270">3)昭君出塞:</text></g>
<g id="b4_07b1"><text class="t"><tspan x="1980" y="3989">公元前1世纪匈奴分裂，其中一部的首领呼韩</tspan><tspan x="1980" y="4004">邪单于归附汉朝，汉元帝把昭君嫁给呼韩邪单</tspan><tspan x="1980" y="4019">于。呼韩邪单于和昭君为汉匈两族的友好相处</tspan><tspan x="1980" y="4034">和文化交流，作出了重要贡献。</tspan></text></g>
<g id="b4_07b2"><text class="t"><tspan x="1980" y="4084">4)东汉时，匈奴分为南北两部，东汉明帝派窦</tspan><tspan x="1980" y="4099">固、窦宪攻击匈奴，取得胜利。</tspan></text></g>
<g id="b4_07b3"><text class="t"><tspan x="1980" y="4277">三、小结：列举两汉时期汉与匈奴的关系的事</tspan><tspan x="1980" y="4292">例</tspan></text></g>
<g id="b4_07b3a"><text class="t" x="2230" y="4150">1)西汉初年对匈奴采取和亲政策;</text></g>
<g id="b4_07b3b"><text class="t"><tspan x="2230" y="4200">2)公元前119年，汉武帝派卫青、霍去病进攻</tspan><tspan x="2230" y="4216">匈奴，取得胜利;</tspan></text></g>
<g id="b4_07b3c"><text class="t"><tspan x="2230" y="4267">3)公元前1世纪匈奴的首领呼韩邪单于归附汉</tspan><tspan x="2230" y="4281">朝;</tspan></text></g>
<g id="b4_07b3d"><text class="t"><tspan x="2230" y="4332">4)汉元帝把昭君嫁给呼韩邪单于。呼韩邪单于</tspan><tspan x="2230" y="4347">和昭君为汉匈两族的友好相处和文化交流作出</tspan><tspan x="2230" y="4361">了重要贡献;</tspan></text></g>
<g id="b4_07b3e"><text class="t"><tspan x="2230" y="4413">5)东汉明帝时，派窦固、窦宪攻击匈奴，取得</tspan><tspan x="2230" y="4427">胜利。</tspan></text></g>
<g id="b4_07b4"><text class="t" x="1980" y="4479">四、作业：举例说明两汉与匈奴的关系。</text></g>
<g id="b4_07b4a"><text class="t" x="2207" y="4479">附：板书设计</text></g>
<g id="b4_07b5"><text class="t" x="1980" y="4529">一、匈奴</text></g>
<g id="b4_08"><text class="t" x="1636" y="4580">1、匈奴的首领称为单于</text></g>
<g id="b4_09"><text class="t"><tspan x="1636" y="4725">2、秦末汉初，匈奴首领冒顿单于统一蒙古草</tspan><tspan x="1636" y="4739">原。</tspan></text></g>
<g id="b4_09a"><text class="t"><tspan x="1886" y="4631">二、卫青、霍去病大破匈奴：公元前119年，</tspan><tspan x="1886" y="4645">卫青、霍去病</tspan></text></g>
<g id="b4_09b"><text class="t"><tspan x="1886" y="4697">三、昭君出塞：公元前1世纪，汉元帝把昭君</tspan><tspan x="1886" y="4711">嫁给呼韩邪单于。</tspan></text></g>
<g id="b4_09c"><text class="t"><tspan x="1886" y="4762">四、东汉明帝派窦固、窦宪攻击匈奴，取得胜</tspan><tspan x="1886" y="4776">利。</tspan></text></g>
<g id="b4_09d"><text class="t" x="1886" y="4827">五、列举两汉时期汉与匈奴的关系的事例</text></g>

<g id="b6_01"><text class="t" x="1696" y="4879">★ 八年级上册历史教案设计大全</text></g>
<g id="b6_02"><text class="t" x="1696" y="4929">★ 人教版八年级上册历史教案大全</text></g>
<g id="b6_03"><text class="t" x="1696" y="4980">★ 人教版八年级上册历史教案</text></g>
<g id="b6_04"><text class="t" x="1696" y="5031">★ 八年级上册历史教案设计</text></g>
<g id="b6_05"><text class="t"><tspan x="1696" y="5081">★ 八年级上册历史教案设计2020人教版范文</tspan><tspan x="1696" y="5096">大全</tspan></text></g>
<g id="b6_06"><text class="t" x="1696" y="5147">★ 八年级上册历史教案</text></g>
<g id="b6_07"><text class="t" x="1696" y="5198">★ 人教版八年级上册历史教案设计范文</text></g>
<g id="b6_08"><text class="t" x="1696" y="5249">★ 八年级上册历史教案范文大全</text></g>
<g id="b6_09"><text class="t" x="1696" y="5300">★ 八年级上册近代史战争历史教案</text></g>
<g id="b6_10"><text class="t" x="1696" y="5351">★ 中图版历史八年级上册教案范文</text></g>

<g id="watermarks">
<text class="wm" x="636" y="555" transform="rotate(-31 636 512)">树图 shutu.cn</text>
<text class="wm" x="636" y="1558" transform="rotate(-31 636 1515)">树图 shutu.cn</text>
<text class="wm" x="636" y="2558" transform="rotate(-31 636 2515)">树图 shutu.cn</text>
<text class="wm" x="636" y="3561" transform="rotate(-31 636 3518)">树图 shutu.cn</text>
<text class="wm" x="636" y="4563" transform="rotate(-31 636 4520)">树图 shutu.cn</text>
<text class="wm" x="636" y="5563" transform="rotate(-31 636 5520)">树图 shutu.cn</text>
<text class="wm" x="1901" y="563" transform="rotate(-31 1901 520)">树图 shutu.cn</text>
<text class="wm" x="1901" y="1564" transform="rotate(-31 1901 1521)">树图 shutu.cn</text>
<text class="wm" x="1901" y="2563" transform="rotate(-31 1901 2520)">树图 shutu.cn</text>
<text class="wm" x="1901" y="3561" transform="rotate(-31 1901 3518)">树图 shutu.cn</text>
<text class="wm" x="1901" y="4559" transform="rotate(-31 1901 4516)">树图 shutu.cn</text>
<text class="wm" x="1901" y="5563" transform="rotate(-31 1901 5520)">树图 shutu.cn</text>
</g>
</g>
</svg>
